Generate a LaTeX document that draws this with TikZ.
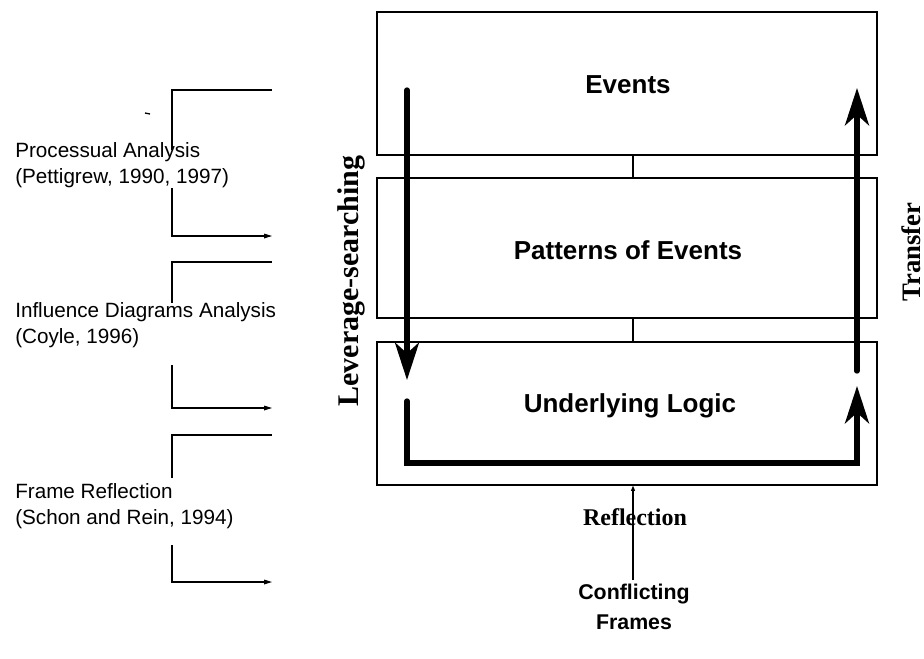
\documentclass[tikz,border=0pt]{standalone}
\usepackage{fontspec}
\setmainfont{Liberation Serif}
\setsansfont{Liberation Sans}
\usetikzlibrary{arrows.meta}
\begin{document}
\begin{tikzpicture}[x=0.75pt,y=-0.75pt,
  level/.style={draw, line width=0.9pt, minimum width=375pt, inner sep=0pt},
  leveltext/.style={font=\sffamily\bfseries\fontsize{19.5}{23}\selectfont, inner sep=0pt},
  thin/.style={line width=0.8pt},
  feed/.style={line width=0.8pt, -{Triangle[length=6pt,width=3.5pt]}},
  flow/.style={line width=4pt, line cap=round, -{Stealth[length=28pt,width=18pt,inset=8pt]}},
  method/.style={font=\sffamily\fontsize{15.5}{19.5}\selectfont, align=left, anchor=west, inner sep=0pt},
  phase/.style={font=\bfseries\fontsize{22.5}{26}\selectfont, inner sep=0pt},
]
\useasboundingbox (0,0) rectangle (924,658);

% the three levels
\node[level, minimum height=107.25pt] (events)   at (627,83.5)  {};
\node[level, minimum height=105pt]    (patterns) at (627,248)   {};
\node[level, minimum height=107.25pt] (logic)    at (627,413.5) {};
\node[leveltext] (tevents)   at (628,85)  {Events};
\node[leveltext] (tpatterns) at (628,250) {Patterns of Events};
\node[leveltext] (tlogic)    at (630,406) {Underlying Logic};

% links between the levels
\coordinate (mid) at (633,0);
\draw[thin] (events.south -| mid) -- (patterns.north -| mid);
\draw[thin] (patterns.south -| mid) -- (logic.north -| mid);

% leverage-searching, reflection and transfer loop
\coordinate (ls0) at (407,90);
\coordinate (ls1) at (407,380);
\coordinate (rf0) at (407,401);
\coordinate (rf1) at (407,463);
\coordinate (rf2) at (857,463);
\coordinate (rf3) at (857,386);
\coordinate (tr0) at (857,371);
\coordinate (tr1) at (857,88);
\draw[flow] (ls0) -- (ls1);
\draw[flow, line join=miter] (rf0) -- (rf1) -- (rf2) -- (rf3);
\draw[flow] (tr0) -- (tr1);

\node[phase, rotate=90] (leverage) at (351,281) {Leverage-searching};
\node[phase, rotate=90, font=\bfseries\fontsize{20}{24}\selectfont] (transfer) at (911,252) {Transfer};
\node[phase, font=\bfseries\fontsize{18}{22}\selectfont] (reflection) at (635,517) {Reflection};

% conflicting frames feeding the underlying logic
\node[font=\sffamily\bfseries\fontsize{16}{22.5}\selectfont, align=center, inner sep=0pt] (frames) at (634,607) {Conflicting\\Frames};
\coordinate (ftop) at (633,580);
\draw[thin, -{Triangle[length=4pt,width=3pt]}] (ftop) -- (logic.south -| mid);

% methods on the left
\node[method] (m1) at (15,165)   {Processual Analysis\\(Pettigrew, 1990, 1997)};
\node[method] (m2) at (15,325.5) {Influence Diagrams Analysis\\(Coyle, 1996)};
\node[method] (m3) at (15,506)   {Frame Reflection\\(Schon and Rein, 1994)};

\coordinate (a1) at (272,90);  \coordinate (b1) at (172,150);
\coordinate (c1) at (172,188); \coordinate (d1) at (272,236);
\coordinate (a2) at (272,262); \coordinate (b2) at (172,303);
\coordinate (c2) at (172,365); \coordinate (d2) at (272,408);
\coordinate (a3) at (272,435); \coordinate (b3) at (172,478);
\coordinate (c3) at (172,545); \coordinate (d3) at (272,582);
\draw[thin] (a1) -| (b1);  \draw[feed] (c1) |- (d1);
\draw[thin] (a2) -| (b2);  \draw[feed] (c2) |- (d2);
\draw[thin] (a3) -| (b3);  \draw[feed] (c3) |- (d3);

% small stray mark
\coordinate (s0) at (145,113); \coordinate (s1) at (150,114);
\draw[line width=1pt] (s0) -- (s1);
\end{tikzpicture}
\end{document}
